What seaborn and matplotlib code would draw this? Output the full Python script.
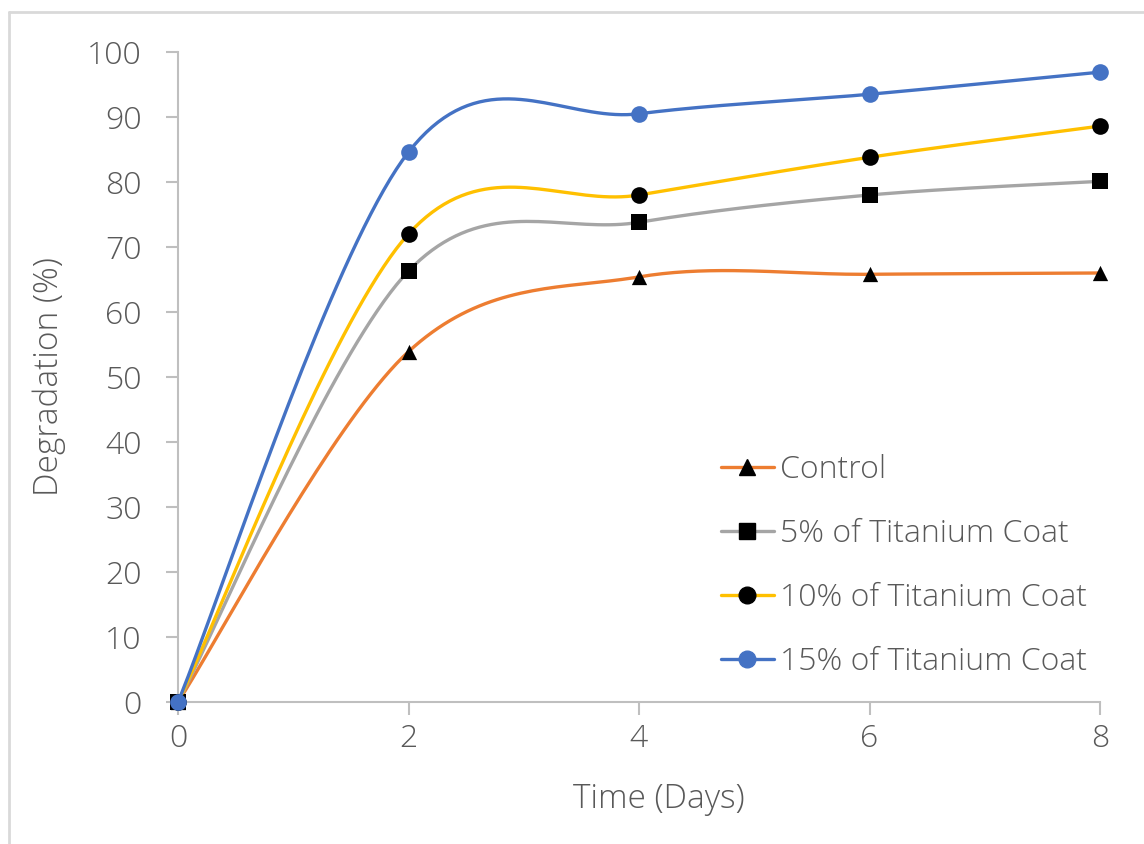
import numpy as np
import pandas as pd
import matplotlib
matplotlib.use("Agg")
import matplotlib.pyplot as plt
from matplotlib.lines import Line2D
import seaborn as sns

# ---- data ----
days = [0, 2, 4, 6, 8]
control = [0, 53.9, 65.4, 65.8, 66.0]
ti5 = [0, 66.3, 73.8, 78.0, 80.1]
ti10 = [0, 72.0, 78.0, 83.8, 88.6]
ti15 = [0, 84.6, 90.5, 93.5, 96.9]
series_names = ["Control", "5% of Titanium Coat", "10% of Titanium Coat", "15% of Titanium Coat"]
x_ticks = [0, 2, 4, 6, 8]
y_ticks = [0, 10, 20, 30, 40, 50, 60, 70, 80, 90, 100]

colors = ["#ED7D31", "#A5A5A5", "#FFC000", "#4472C4"]
markers = ["^", "s", "o", "o"]
marker_colors = ["black", "black", "black", "#4472C4"]
marker_sizes = [11, 11, 12, 12]


def smooth(xs, ys, n=40):
    """Excel-like smoothed curve (Catmull-Rom Bezier)."""
    xs = np.asarray(xs, float)
    ys = np.asarray(ys, float)
    P = np.column_stack([xs, ys])
    out = []
    for i in range(len(P) - 1):
        p0 = P[i - 1] if i > 0 else P[i]
        p1 = P[i]
        p2 = P[i + 1]
        p3 = P[i + 2] if i + 2 < len(P) else P[i + 1]
        c1 = p1 + (p2 - p0) / 6.0
        c2 = p2 - (p3 - p1) / 6.0
        t = np.linspace(0, 1, n)[:, None]
        pts = ((1 - t) ** 3) * p1 + 3 * ((1 - t) ** 2) * t * c1 + 3 * (1 - t) * t ** 2 * c2 + t ** 3 * p2
        out.append(pts if i == 0 else pts[1:])
    out = np.vstack(out)
    return out[:, 0], out[:, 1]


sns.set_theme(style="white")
plt.rcParams["font.family"] = ["Open Sans", "DejaVu Sans"]

fig = plt.figure(figsize=(11.44, 8.44), dpi=100)
ax = fig.add_axes([178 / 1144, 1 - 702 / 844, (1100 - 178) / 1144, (702 - 52) / 844])

all_vals = [control, ti5, ti10, ti15]
for k, (name, vals) in enumerate(zip(series_names, all_vals)):
    sx, sy = smooth(days, vals)
    df_s = pd.DataFrame({"x": sx, "y": sy})
    sns.lineplot(data=df_s, x="x", y="y", sort=False, ax=ax, color=colors[k],
                 linewidth=2.4, zorder=2 + k * 2, estimator=None)
    df_p = pd.DataFrame({"x": days, "y": vals})
    sns.scatterplot(data=df_p, x="x", y="y", ax=ax, marker=markers[k],
                    color=marker_colors[k], s=marker_sizes[k] ** 2,
                    edgecolor=marker_colors[k], linewidth=0, zorder=3 + k * 2, clip_on=False)

ax.set_xlim(0, 8)
ax.set_ylim(0, 100)
ax.set_xticks(x_ticks)
ax.set_yticks(y_ticks)
ax.set_xticklabels([str(v) for v in x_ticks])
ax.set_yticklabels([str(v) for v in y_ticks])

text_color = "#595959"
axis_color = "#BFBFBF"
for s in ["top", "right"]:
    ax.spines[s].set_visible(False)
for s in ["left", "bottom"]:
    ax.spines[s].set_color(axis_color)
    ax.spines[s].set_linewidth(1.5)
ax.tick_params(axis="both", which="major", direction="out", length=9, width=1.5,
               color=axis_color, labelcolor=text_color, labelsize=23, bottom=True, left=True)
ax.tick_params(axis="x", pad=6)
ax.tick_params(axis="y", pad=17)
for lab in ax.get_xticklabels() + ax.get_yticklabels():
    lab.set_fontweight("light")
ax.set_xlabel("Time (Days)", fontsize=24, color=text_color, labelpad=20, fontweight="light")
ax.xaxis.label.set_x(0.522)
ax.set_ylabel("Degradation (%)", fontsize=24, color=text_color, labelpad=15, fontweight="light")
ax.grid(False)

handles = [Line2D([0], [0], color=colors[k], linewidth=2.4, marker=markers[k],
                  markerfacecolor=marker_colors[k], markeredgecolor=marker_colors[k],
                  markersize=marker_sizes[k])
           for k in range(4)]
leg = ax.legend(handles, series_names, loc="upper left", bbox_to_anchor=(0.575, 0.401),
                frameon=False, prop={"size": 23, "weight": "light"}, handlelength=1.65,
                handletextpad=0.2, labelspacing=1.0, borderaxespad=0)
for t in leg.get_texts():
    t.set_color(text_color)

# chart border (top and left edges visible in the reference)
fig.add_artist(Line2D([9 / 1144, 9 / 1144], [0, 1 - 12 / 844], transform=fig.transFigure,
                      color="#D9D9D9", linewidth=2))
fig.add_artist(Line2D([9 / 1144, 1], [1 - 12 / 844, 1 - 12 / 844], transform=fig.transFigure,
                      color="#D9D9D9", linewidth=2))

fig.savefig("out.png", dpi=100, facecolor="white")
